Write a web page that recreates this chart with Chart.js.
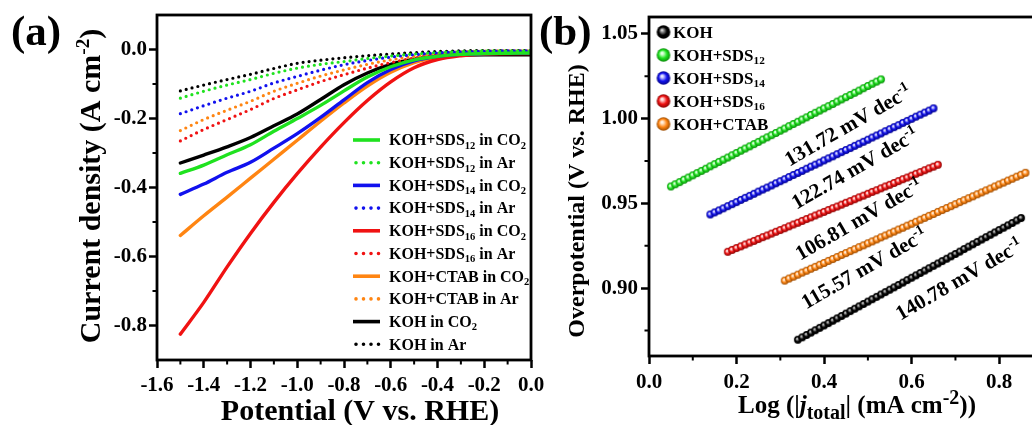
<!DOCTYPE html>
<html>
<head>
<meta charset="utf-8">
<script src="https://cdn.jsdelivr.net/npm/chart.js@4"></script>
<style>
  html, body { margin: 0; padding: 0; background: #fff; overflow: hidden; width: 1032px; height: 425px; }
  canvas { position: absolute; top: 0; }
  #lsv { left: 0; }
  #tafel { left: 530px; }
</style>
</head>
<body>
<canvas id="lsv" width="560" height="425"></canvas>
<canvas id="tafel" width="560" height="425"></canvas>
<script>
// ---- LSV curves: potential (V vs. RHE) and current density (A cm-2) ----
const lsvPotential = [-1.5, -1.4, -1.3, -1.2, -1.1, -1.0, -0.9, -0.8, -0.7, -0.6, -0.5, -0.4, -0.3, -0.2, -0.1, 0.0];
const jSDS12_CO2 = [-0.359, -0.335, -0.305, -0.276, -0.237, -0.200, -0.162, -0.120, -0.080, -0.050, -0.030, -0.020, -0.014, -0.012, -0.011, -0.010];
const jSDS12_Ar  = [-0.141, -0.121, -0.103, -0.087, -0.069, -0.054, -0.043, -0.035, -0.026, -0.019, -0.013, -0.009, -0.006, -0.004, -0.004, -0.004];
const jSDS14_CO2 = [-0.420, -0.390, -0.356, -0.327, -0.286, -0.244, -0.197, -0.146, -0.096, -0.058, -0.033, -0.020, -0.014, -0.012, -0.011, -0.010];
const jSDS14_Ar  = [-0.186, -0.163, -0.141, -0.121, -0.097, -0.078, -0.060, -0.044, -0.032, -0.022, -0.015, -0.010, -0.007, -0.005, -0.004, -0.004];
const jSDS16_CO2 = [-0.825, -0.733, -0.630, -0.533, -0.443, -0.360, -0.283, -0.212, -0.148, -0.094, -0.053, -0.029, -0.018, -0.013, -0.012, -0.012];
const jSDS16_Ar  = [-0.265, -0.232, -0.203, -0.174, -0.142, -0.117, -0.093, -0.073, -0.054, -0.038, -0.025, -0.015, -0.009, -0.006, -0.005, -0.005];
const jCTAB_CO2  = [-0.539, -0.482, -0.428, -0.373, -0.318, -0.263, -0.208, -0.155, -0.106, -0.066, -0.038, -0.022, -0.015, -0.012, -0.011, -0.010];
const jCTAB_Ar   = [-0.235, -0.203, -0.176, -0.150, -0.121, -0.098, -0.077, -0.059, -0.043, -0.030, -0.020, -0.012, -0.007, -0.005, -0.004, -0.004];
const jKOH_CO2   = [-0.329, -0.306, -0.282, -0.255, -0.221, -0.187, -0.145, -0.102, -0.068, -0.043, -0.028, -0.020, -0.016, -0.015, -0.015, -0.015];
const jKOH_Ar    = [-0.120, -0.103, -0.087, -0.072, -0.055, -0.040, -0.031, -0.024, -0.018, -0.013, -0.009, -0.006, -0.004, -0.003, -0.003, -0.003];

const lsvLabels = [
  'KOH+SDS_{12} in CO_{2}', 'KOH+SDS_{12} in Ar',
  'KOH+SDS_{14} in CO_{2}', 'KOH+SDS_{14} in Ar',
  'KOH+SDS_{16} in CO_{2}', 'KOH+SDS_{16} in Ar',
  'KOH+CTAB in CO_{2}', 'KOH+CTAB in Ar',
  'KOH in CO_{2}', 'KOH in Ar'
];
const lsvXTicks = [-1.6, -1.4, -1.2, -1.0, -0.8, -0.6, -0.4, -0.2, 0.0];
const lsvXMinor = [-1.5, -1.3, -1.1, -0.9, -0.7, -0.5, -0.3, -0.1];
const lsvYTicks = [-0.8, -0.6, -0.4, -0.2, 0.0];
const lsvYMinor = [-0.7, -0.5, -0.3, -0.1];

// ---- Tafel plots: log|j| and overpotential (V) ----
const tafelLogJ_KOH = [0.34, 0.35, 0.36, 0.37, 0.38, 0.39, 0.40, 0.41, 0.42, 0.43, 0.44, 0.45, 0.46, 0.47, 0.48, 0.49, 0.50, 0.51, 0.52, 0.53, 0.54, 0.55, 0.56, 0.57, 0.58, 0.59, 0.60, 0.61, 0.62, 0.63, 0.64, 0.65, 0.66, 0.67, 0.68, 0.69, 0.70, 0.71, 0.72, 0.73, 0.74, 0.75, 0.76, 0.77, 0.78, 0.79, 0.80, 0.81, 0.82, 0.83, 0.84, 0.85];
const tafelEta_KOH  = [0.8696, 0.8710, 0.8724, 0.8738, 0.8752, 0.8766, 0.8780, 0.8794, 0.8808, 0.8822, 0.8836, 0.8850, 0.8865, 0.8879, 0.8893, 0.8907, 0.8921, 0.8935, 0.8949, 0.8963, 0.8977, 0.8991, 0.9005, 0.9019, 0.9033, 0.9048, 0.9062, 0.9076, 0.9090, 0.9104, 0.9118, 0.9132, 0.9146, 0.9160, 0.9174, 0.9188, 0.9202, 0.9216, 0.9231, 0.9245, 0.9259, 0.9273, 0.9287, 0.9301, 0.9315, 0.9329, 0.9343, 0.9357, 0.9371, 0.9385, 0.9400, 0.9414];
const tafelLogJ_SDS12 = [0.05, 0.06, 0.07, 0.08, 0.09, 0.10, 0.11, 0.12, 0.13, 0.14, 0.15, 0.16, 0.17, 0.18, 0.19, 0.20, 0.21, 0.22, 0.23, 0.24, 0.25, 0.26, 0.27, 0.28, 0.29, 0.30, 0.31, 0.32, 0.33, 0.34, 0.35, 0.36, 0.37, 0.38, 0.39, 0.40, 0.41, 0.42, 0.43, 0.44, 0.45, 0.46, 0.47, 0.48, 0.49, 0.50, 0.51, 0.52, 0.53];
const tafelEta_SDS12  = [0.9600, 0.9613, 0.9626, 0.9640, 0.9653, 0.9666, 0.9679, 0.9692, 0.9705, 0.9719, 0.9732, 0.9745, 0.9758, 0.9771, 0.9784, 0.9798, 0.9811, 0.9824, 0.9837, 0.9850, 0.9863, 0.9877, 0.9890, 0.9903, 0.9916, 0.9929, 0.9942, 0.9956, 0.9969, 0.9982, 0.9995, 1.0008, 1.0022, 1.0035, 1.0048, 1.0061, 1.0074, 1.0087, 1.0101, 1.0114, 1.0127, 1.0140, 1.0153, 1.0166, 1.0180, 1.0193, 1.0206, 1.0219, 1.0232];
const tafelLogJ_SDS14 = [0.14, 0.15, 0.16, 0.17, 0.18, 0.19, 0.20, 0.21, 0.22, 0.23, 0.24, 0.25, 0.26, 0.27, 0.28, 0.29, 0.30, 0.31, 0.32, 0.33, 0.34, 0.35, 0.36, 0.37, 0.38, 0.39, 0.40, 0.41, 0.42, 0.43, 0.44, 0.45, 0.46, 0.47, 0.48, 0.49, 0.50, 0.51, 0.52, 0.53, 0.54, 0.55, 0.56, 0.57, 0.58, 0.59, 0.60, 0.61, 0.62, 0.63, 0.64, 0.65];
const tafelEta_SDS14  = [0.9435, 0.9447, 0.9459, 0.9471, 0.9484, 0.9496, 0.9508, 0.9521, 0.9533, 0.9545, 0.9557, 0.9570, 0.9582, 0.9594, 0.9606, 0.9619, 0.9631, 0.9643, 0.9656, 0.9668, 0.9680, 0.9692, 0.9705, 0.9717, 0.9729, 0.9741, 0.9754, 0.9766, 0.9778, 0.9791, 0.9803, 0.9815, 0.9827, 0.9840, 0.9852, 0.9864, 0.9876, 0.9889, 0.9901, 0.9913, 0.9926, 0.9938, 0.9950, 0.9962, 0.9975, 0.9987, 0.9999, 1.0012, 1.0024, 1.0036, 1.0048, 1.0061];
const tafelLogJ_SDS16 = [0.18, 0.19, 0.20, 0.21, 0.22, 0.23, 0.24, 0.25, 0.26, 0.27, 0.28, 0.29, 0.30, 0.31, 0.32, 0.33, 0.34, 0.35, 0.36, 0.37, 0.38, 0.39, 0.40, 0.41, 0.42, 0.43, 0.44, 0.45, 0.46, 0.47, 0.48, 0.49, 0.50, 0.51, 0.52, 0.53, 0.54, 0.55, 0.56, 0.57, 0.58, 0.59, 0.60, 0.61, 0.62, 0.63, 0.64, 0.65, 0.66];
const tafelEta_SDS16  = [0.9215, 0.9226, 0.9237, 0.9247, 0.9258, 0.9269, 0.9279, 0.9290, 0.9301, 0.9311, 0.9322, 0.9333, 0.9343, 0.9354, 0.9365, 0.9376, 0.9386, 0.9397, 0.9408, 0.9418, 0.9429, 0.9440, 0.9450, 0.9461, 0.9472, 0.9482, 0.9493, 0.9504, 0.9514, 0.9525, 0.9536, 0.9546, 0.9557, 0.9568, 0.9578, 0.9589, 0.9600, 0.9610, 0.9621, 0.9632, 0.9643, 0.9653, 0.9664, 0.9675, 0.9685, 0.9696, 0.9707, 0.9717, 0.9728];
const tafelLogJ_CTAB = [0.31, 0.32, 0.33, 0.34, 0.35, 0.36, 0.37, 0.38, 0.39, 0.40, 0.41, 0.42, 0.43, 0.44, 0.45, 0.46, 0.47, 0.48, 0.49, 0.50, 0.51, 0.52, 0.53, 0.54, 0.55, 0.56, 0.57, 0.58, 0.59, 0.60, 0.61, 0.62, 0.63, 0.64, 0.65, 0.66, 0.67, 0.68, 0.69, 0.70, 0.71, 0.72, 0.73, 0.74, 0.75, 0.76, 0.77, 0.78, 0.79, 0.80, 0.81, 0.82, 0.83, 0.84, 0.85, 0.86];
const tafelEta_CTAB  = [0.9045, 0.9057, 0.9068, 0.9080, 0.9092, 0.9103, 0.9115, 0.9126, 0.9138, 0.9149, 0.9161, 0.9172, 0.9184, 0.9196, 0.9207, 0.9219, 0.9230, 0.9242, 0.9253, 0.9265, 0.9276, 0.9288, 0.9300, 0.9311, 0.9323, 0.9334, 0.9346, 0.9357, 0.9369, 0.9380, 0.9392, 0.9404, 0.9415, 0.9427, 0.9438, 0.9450, 0.9461, 0.9473, 0.9484, 0.9496, 0.9508, 0.9519, 0.9531, 0.9542, 0.9554, 0.9565, 0.9577, 0.9588, 0.9600, 0.9612, 0.9623, 0.9635, 0.9646, 0.9658, 0.9669, 0.9681];

const tafelNames  = ['KOH', 'KOH+SDS_{12}', 'KOH+SDS_{14}', 'KOH+SDS_{16}', 'KOH+CTAB'];
const tafelSlopes = [140.78, 131.72, 122.74, 106.81, 115.57]; // mV dec-1
const tafelXTicks = [0.0, 0.2, 0.4, 0.6, 0.8];
const tafelXMinor = [0.1, 0.3, 0.5, 0.7];
const tafelYTicks = [0.90, 0.95, 1.00, 1.05];
const tafelYMinor = [0.875, 0.925, 0.975, 1.025];

const colors = { KOH: '#000000', SDS12: '#1fe21f', SDS14: '#1111ee', SDS16: '#f01212', CTAB: '#ff8512' };
const darkColors = { KOH: '#000000', SDS12: '#0b8a0b', SDS14: '#06068a', SDS16: '#8a0606', CTAB: '#9a4a00' };
const lightColors = { KOH: '#9a9a9a', SDS12: '#c8ffc8', SDS14: '#c8c8ff', SDS16: '#ffc8c8', CTAB: '#ffe0c0' };

const FAMILY = '"Liberation Serif", "Times New Roman", serif';

// rich text: _{sub}, ^{sup}, *italic*
function richRuns(str) {
  const runs = [];
  const re = /_\{([^}]*)\}|\^\{([^}]*)\}|\*([^*]*)\*|([^_^*]+)/g;
  let m;
  while ((m = re.exec(str))) {
    if (m[1] !== undefined) runs.push({ t: m[1], kind: 'sub' });
    else if (m[2] !== undefined) runs.push({ t: m[2], kind: 'sup' });
    else if (m[3] !== undefined) runs.push({ t: m[3], kind: 'it' });
    else runs.push({ t: m[4], kind: 'n' });
  }
  return runs;
}

function runFont(run, size, subScale) {
  const s = (run.kind === 'sub' || run.kind === 'sup') ? size * subScale : size;
  return (run.kind === 'it' ? 'italic ' : '') + 'bold ' + s + 'px ' + FAMILY;
}

function drawRich(ctx, str, x, y, size, align, subScale) {
  subScale = subScale || 0.66;
  const runs = richRuns(str);
  let w = 0;
  runs.forEach(r => { ctx.font = runFont(r, size, subScale); r.w = ctx.measureText(r.t).width; w += r.w; });
  let cx = align === 'center' ? x - w / 2 : x;
  ctx.textAlign = 'left';
  ctx.textBaseline = 'alphabetic';
  ctx.fillStyle = '#000';
  runs.forEach(r => {
    ctx.font = runFont(r, size, subScale);
    const dy = r.kind === 'sub' ? size * 0.22 : r.kind === 'sup' ? -size * 0.38 : 0;
    ctx.fillText(r.t, cx, y + dy);
    cx += r.w;
  });
}

// small shaded sphere used as the point marker
function makeBall(key, r) {
  const c = document.createElement('canvas');
  const s = Math.ceil(r * 2 + 2);
  c.width = c.height = s;
  const g = c.getContext('2d');
  const cx = s / 2, cy = s / 2;
  const grad = g.createRadialGradient(cx - r * 0.25, cy - r * 0.3, 0, cx, cy, r);
  grad.addColorStop(0, '#ffffff');
  grad.addColorStop(0.22, lightColors[key]);
  grad.addColorStop(0.6, colors[key]);
  grad.addColorStop(1, darkColors[key]);
  g.fillStyle = grad;
  g.beginPath();
  g.arc(cx, cy, r, 0, Math.PI * 2);
  g.fill();
  return c;
}

function points(xs, ys) {
  return xs.map((x, i) => ({ x: x, y: ys[i] }));
}

const tickFont = { family: FAMILY, size: 21, weight: 'bold' };

function drawFrameAndMinor(chart, xMinor, yMinor) {
  const ctx = chart.ctx, a = chart.chartArea;
  const xs = chart.scales.x, ys = chart.scales.y;
  ctx.save();
  ctx.strokeStyle = '#000';
  ctx.lineWidth = 2;
  ctx.beginPath();
  xMinor.forEach(v => { const px = xs.getPixelForValue(v); ctx.moveTo(px, a.bottom); ctx.lineTo(px, a.bottom + 4.5); });
  yMinor.forEach(v => { const py = ys.getPixelForValue(v); ctx.moveTo(a.left, py); ctx.lineTo(a.left - 4.5, py); });
  ctx.stroke();
  ctx.lineWidth = 2.8;
  ctx.strokeRect(a.left, a.top, a.right - a.left, a.bottom - a.top);
  ctx.restore();
}

// ---------------- panel (a) ----------------
const lsvSeries = [
  { y: jSDS12_CO2, c: 'SDS12', dot: false }, { y: jSDS12_Ar, c: 'SDS12', dot: true },
  { y: jSDS14_CO2, c: 'SDS14', dot: false }, { y: jSDS14_Ar, c: 'SDS14', dot: true },
  { y: jSDS16_CO2, c: 'SDS16', dot: false }, { y: jSDS16_Ar, c: 'SDS16', dot: true },
  { y: jCTAB_CO2, c: 'CTAB', dot: false },   { y: jCTAB_Ar, c: 'CTAB', dot: true },
  { y: jKOH_CO2, c: 'KOH', dot: false },     { y: jKOH_Ar, c: 'KOH', dot: true }
];

const lsvDatasets = lsvSeries.map((s, i) => ({
  label: lsvLabels[i],
  data: points(lsvPotential, s.y),
  borderColor: colors[s.c],
  borderWidth: s.dot ? 3.2 : 3.4,
  borderDash: s.dot ? [0, 6] : [],
  borderCapStyle: 'round',
  cubicInterpolationMode: 'monotone',
  pointRadius: 0,
  fill: false
}));

const lsvDecor = {
  id: 'lsvDecor',
  afterDraw(chart) {
    const ctx = chart.ctx;
    drawFrameAndMinor(chart, lsvXMinor, lsvYMinor);
    ctx.save();
    // legend
    chart.data.datasets.forEach((ds, i) => {
      const rowY = 140 + i * 22.7;
      ctx.save();
      ctx.strokeStyle = ds.borderColor;
      ctx.lineWidth = 3.6;
      ctx.lineCap = ds.borderDash.length ? 'round' : 'butt';
      ctx.setLineDash(ds.borderDash.length ? [0, 7.5] : []);
      ctx.beginPath();
      ctx.moveTo(ds.borderDash.length ? 356 : 353, rowY);
      ctx.lineTo(380, rowY);
      ctx.stroke();
      ctx.restore();
      drawRich(ctx, ds.label, 389, rowY + 5.3, 16, 'left', 0.66);
    });
    // panel letter and axis titles
    ctx.fillStyle = '#000';
    ctx.font = 'bold 43px ' + FAMILY;
    ctx.textAlign = 'left';
    ctx.textBaseline = 'alphabetic';
    ctx.fillText('(a)', 11, 45);
    drawRich(ctx, 'Potential (V vs. RHE)', 360, 420, 30, 'center');
    ctx.translate(100, 186);
    ctx.rotate(-Math.PI / 2);
    drawRich(ctx, 'Current density (A cm^{-2})', 0, 0, 30, 'center', 0.64);
    ctx.restore();
  }
};

new Chart(document.getElementById('lsv'), {
  type: 'line',
  data: { datasets: lsvDatasets },
  options: {
    responsive: false,
    animation: false,
    events: [],
    layout: { padding: { left: 0, top: 15, right: 29, bottom: 0 } },
    plugins: { legend: { display: false }, tooltip: { enabled: false } },
    scales: {
      x: {
        type: 'linear', min: -1.6, max: 0,
        afterBuildTicks: s => { s.ticks = lsvXTicks.map(v => ({ value: v })); },
        afterFit: s => { s.height = 65; s.paddingLeft = 0; s.paddingRight = 0; },
        ticks: { font: tickFont, color: '#000', padding: 5, maxRotation: 0, autoSkip: false, callback: v => v.toFixed(1) },
        grid: { display: true, drawOnChartArea: false, drawTicks: true, tickLength: 8, tickWidth: 2.5, tickColor: '#000' },
        border: { display: false }
      },
      y: {
        type: 'linear', min: -0.9, max: 0.1,
        afterBuildTicks: s => { s.ticks = lsvYTicks.map(v => ({ value: v })); },
        afterFit: s => { s.width = 157; s.paddingTop = 0; s.paddingBottom = 0; },
        ticks: { font: tickFont, color: '#000', padding: 2, autoSkip: false, callback: v => v.toFixed(1) },
        grid: { display: true, drawOnChartArea: false, drawTicks: true, tickLength: 8, tickWidth: 2.5, tickColor: '#000' },
        border: { display: false }
      }
    }
  },
  plugins: [lsvDecor]
});

// ---------------- panel (b) ----------------
const tafelKeys = ['KOH', 'SDS12', 'SDS14', 'SDS16', 'CTAB'];
const tafelData = [
  points(tafelLogJ_KOH, tafelEta_KOH),
  points(tafelLogJ_SDS12, tafelEta_SDS12),
  points(tafelLogJ_SDS14, tafelEta_SDS14),
  points(tafelLogJ_SDS16, tafelEta_SDS16),
  points(tafelLogJ_CTAB, tafelEta_CTAB)
];
// where each slope note sits (data coordinates of its centre)
const slopeNoteAt = [[0.708, 0.9054], [0.454, 0.9963], [0.470, 0.9709], [0.479, 0.9408], [0.491, 0.9119]];

const tafelDatasets = tafelKeys.map((k, i) => ({
  label: tafelNames[i],
  data: tafelData[i],
  showLine: false,
  pointStyle: makeBall(k, 3.9),
  pointRadius: 3.9,
  legendBall: makeBall(k, 6.8)
}));

const tafelDecor = {
  id: 'tafelDecor',
  afterDraw(chart) {
    const ctx = chart.ctx;
    const xs = chart.scales.x, ys = chart.scales.y;
    drawFrameAndMinor(chart, tafelXMinor, tafelYMinor);
    ctx.save();
    // slope notes
    tafelSlopes.forEach((v, i) => {
      const px = xs.getPixelForValue(slopeNoteAt[i][0]);
      const py = ys.getPixelForValue(slopeNoteAt[i][1]);
      ctx.save();
      ctx.translate(px, py);
      ctx.rotate(-30 * Math.PI / 180);
      drawRich(ctx, v.toFixed(2) + ' mV dec^{-1}', 0, 7, 21, 'center', 0.66);
      ctx.restore();
    });
    // legend
    chart.data.datasets.forEach((ds, i) => {
      const rowY = 32 + i * 23;
      const b = ds.legendBall;
      ctx.drawImage(b, 133.5 - b.width / 2, rowY - b.height / 2);
      drawRich(ctx, ds.label, 143, rowY + 5.6, 17, 'left', 0.66);
    });
    ctx.fillStyle = '#000';
    ctx.font = 'bold 43px ' + FAMILY;
    ctx.textAlign = 'left';
    ctx.textBaseline = 'alphabetic';
    ctx.fillText('(b)', 9, 45);
    drawRich(ctx, 'Log (|*j*_{total}| (mA cm^{-2}))', 327, 413, 25, 'center', 0.8);
    ctx.translate(54, 201);
    ctx.rotate(-Math.PI / 2);
    drawRich(ctx, 'Overpotential (V vs. RHE)', 0, 0, 24, 'center');
    ctx.restore();
  }
};

new Chart(document.getElementById('tafel'), {
  type: 'scatter',
  data: { datasets: tafelDatasets },
  options: {
    responsive: false,
    animation: false,
    events: [],
    layout: { padding: { left: 0, top: 17, right: 47, bottom: 0 } },
    plugins: { legend: { display: false }, tooltip: { enabled: false } },
    scales: {
      x: {
        type: 'linear', min: 0, max: 0.9,
        afterBuildTicks: s => { s.ticks = tafelXTicks.map(v => ({ value: v })); },
        afterFit: s => { s.height = 69; s.paddingLeft = 0; s.paddingRight = 0; },
        ticks: { font: tickFont, color: '#000', padding: 6, maxRotation: 0, autoSkip: false, callback: v => v.toFixed(1) },
        grid: { display: true, drawOnChartArea: false, drawTicks: true, tickLength: 8, tickWidth: 2.5, tickColor: '#000' },
        border: { display: false }
      },
      y: {
        type: 'linear', min: 0.86, max: 1.06,
        afterBuildTicks: s => { s.ticks = tafelYTicks.map(v => ({ value: v })); },
        afterFit: s => { s.width = 119; s.paddingTop = 0; s.paddingBottom = 0; },
        ticks: { font: tickFont, color: '#000', padding: 3, autoSkip: false, callback: v => v.toFixed(2) },
        grid: { display: true, drawOnChartArea: false, drawTicks: true, tickLength: 8, tickWidth: 2.5, tickColor: '#000' },
        border: { display: false }
      }
    }
  },
  plugins: [tafelDecor]
});
</script>
</body>
</html>
